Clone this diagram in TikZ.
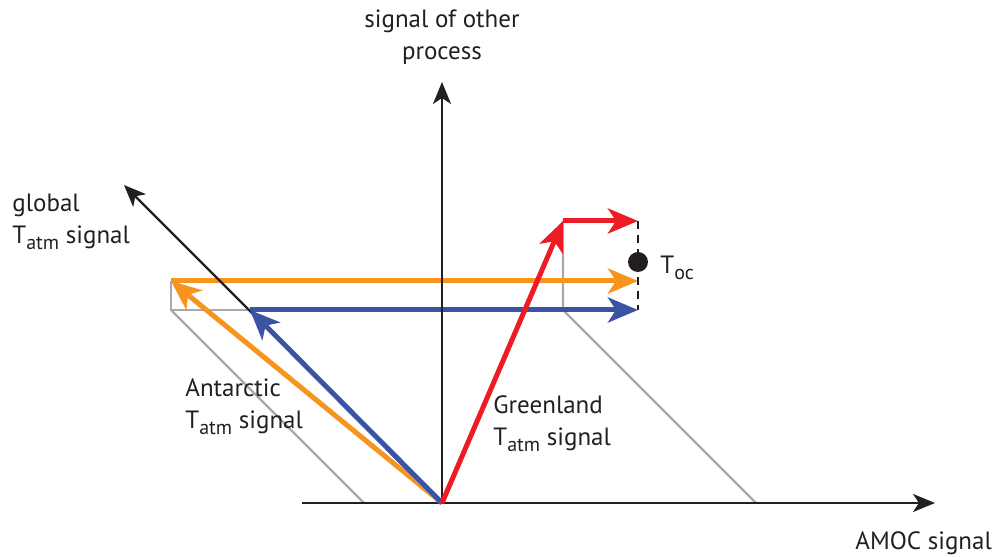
\documentclass[tikz,border=0pt]{standalone}
\usepackage{fontspec}
\setmainfont{PT Sans}
\usepackage{xcolor}
\usepackage{tikz}
\usetikzlibrary{arrows.meta}
\usetikzlibrary{calc}
\tikzset{>={Stealth[length=11pt,width=9pt,inset=3pt]}}
\definecolor{amocorange}{RGB}{247,148,29}
\definecolor{amocblue}{RGB}{58,83,164}
\definecolor{amocred}{RGB}{237,28,36}
\definecolor{projgray}{RGB}{167,169,172}
\definecolor{inkblack}{RGB}{35,31,32}
\newcommand{\lowsub}[1]{\raisebox{-0.45ex}{\fontsize{10}{12}\selectfont #1}}
\tikzstyle{axis}=[->,line width=1.1pt,inkblack]
\tikzstyle{signal}=[-{Stealth[length=15pt,width=12.5pt,inset=4pt]},line width=2.5pt]
\tikzstyle{proj}=[line width=1.2pt,projgray]
\tikzstyle{lbl}=[font=\fontsize{12.5}{16}\selectfont,text=inkblack,inner sep=0pt,align=left,anchor=west]

\begin{document}
\begin{tikzpicture}[x=0.5pt,y=0.5pt, line cap=butt]
					\useasboundingbox (-442,-54) rectangle (555,503);
					\coordinate (O) at (0,0);
					\coordinate (X0) at (-140,0);
					\coordinate (X) at (493,0);
					\coordinate (Y) at (0,421);
					\coordinate (Z) at (-318,318);
					\coordinate (A) at (-271,222);
					\coordinate (B) at (-192,193);
					\coordinate (G) at (121,282);
					\coordinate (Ae) at (196,222);
					\coordinate (Be) at (196,193);
					\coordinate (Ge) at (196,282);
					\coordinate (Ap) at (-271,193);
					\coordinate (Gp) at (121,193);
					% gray projections
					\draw[proj] (A) -- (Ap) -- (B);
					\draw[proj] (Ap) -- ($(Ap)+(193,-193)$);
					\draw[proj] (G) -- (Gp) -- ($(Gp)+(193,-193)$);
					% horizontal components
					\draw[signal,amocorange] (A) -- (Ae);
					\draw[signal,amocblue] (B) -- (Be);
					\draw[signal,amocred] (G) -- (Ge);
					\draw[line width=1.1pt,inkblack,dash pattern=on 4pt off 3pt] (Ge) -- (Be);
					\fill[inkblack] (196,241) circle (10);
					% axes
					\draw[axis] (X0) -- (X);
					\draw[axis] (O) -- (Y);
					\draw[axis] (O) -- (Z);
					% signals
					\draw[signal,amocorange] (O) -- (A);
					\draw[signal,amocblue] (O) -- (B);
					\draw[signal,amocred] (O) -- (G);
					% labels
					\node[lbl,anchor=center,align=center] (other) at (0,466) {signal of other\\process};
					\node[lbl] (glob) at (-430,281) {global\\T\lowsub{atm} signal};
					\node[lbl] (ant) at (-257,96) {Antarctic\\T\lowsub{atm} signal};
					\node[lbl] (green) at (51,79) {Greenland\\T\lowsub{atm} signal};
					\node[lbl] (amoc) at (413,-40) {AMOC signal};
					\node[lbl] (toc) at (218,235) {T\lowsub{oc}};
				\end{tikzpicture}
\end{document}
